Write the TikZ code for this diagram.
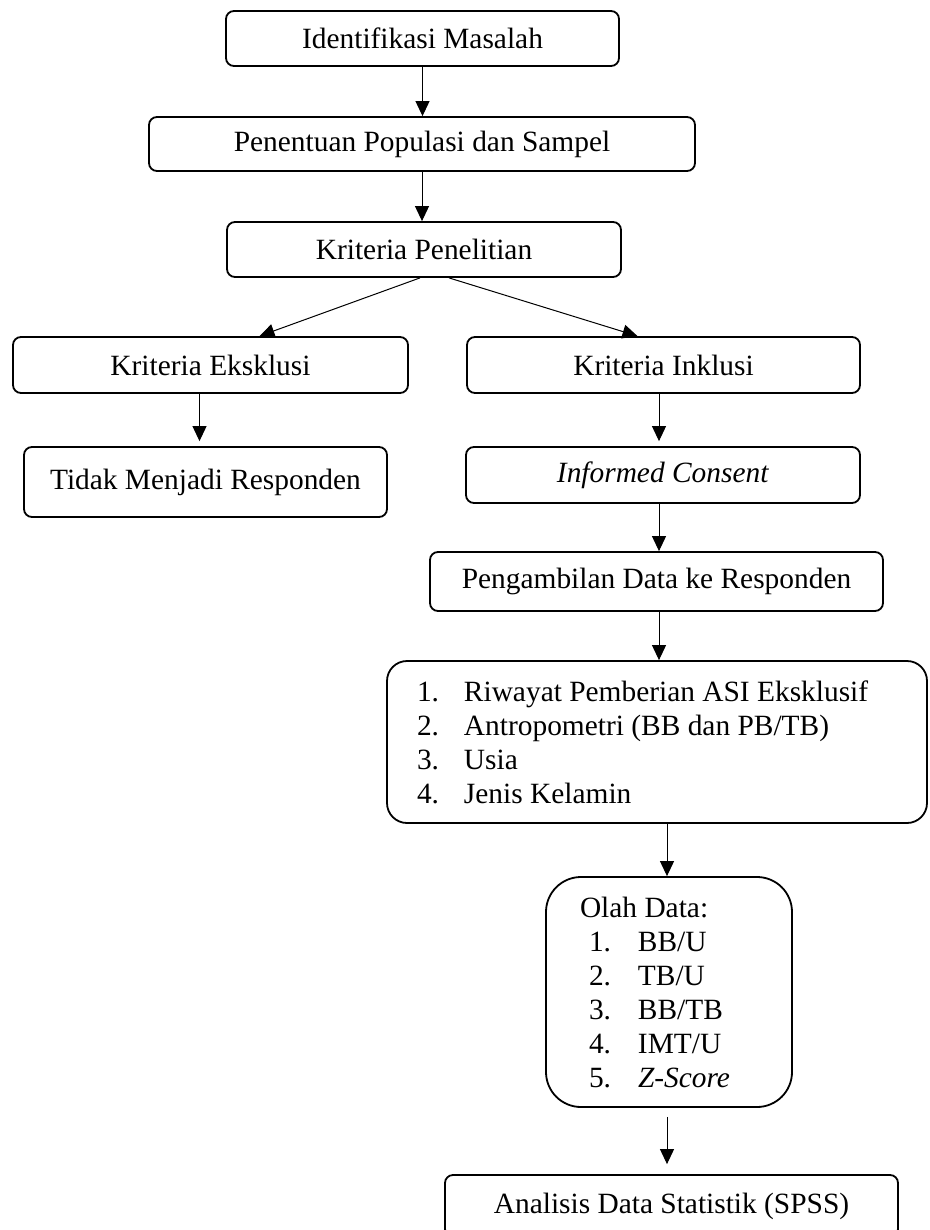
\documentclass[tikz,border=0pt]{standalone}
\usepackage{fontspec}
\setmainfont{Liberation Serif}
\usetikzlibrary{arrows.meta}

\begin{document}
\begin{tikzpicture}[x=1pt, y=-1pt]
    \tikzset{box/.style={draw, line width=1.8pt, rounded corners=8pt, inner sep=0pt, font=\fontsize{29.4}{34}\selectfont},
             arr/.style={line width=1pt, -{Triangle[length=15pt, width=14pt]}}}

    \clip (0,0) rectangle (929,1230);

    \draw (422.5,38.5) node (masalah) [box, minimum width=393pt, minimum height=55pt] {Identifikasi Masalah};
    \draw (422,144) node (populasi) [box, minimum width=546pt, minimum height=54pt] {Penentuan Populasi dan Sampel};
    \draw (424,249.5) node (kriteria) [box, minimum width=394pt, minimum height=55pt] {Kriteria Penelitian};
    \draw (210.5,365) node (eksklusi) [box, minimum width=395pt, minimum height=56pt] {Kriteria Eksklusi};
    \draw (663.5,365) node (inklusi) [box, minimum width=393pt, minimum height=56pt] {\raisebox{-3pt}{Kriteria Inklusi}};
    \draw (205.5,482) node (tidak) [box, minimum width=363pt, minimum height=70pt] {Tidak Menjadi Responden};
    \draw (663,475) node (consent) [box, minimum width=394pt, minimum height=56pt] {\textit{Informed Consent}};
    \draw (656.5,581.5) node (ambil) [box, minimum width=453pt, minimum height=59pt] {Pengambilan Data ke Responden};
    \draw (657,742) node (data) [box, rounded corners=20pt, minimum width=540pt, minimum height=162pt,
        text width=480pt, inner xsep=30pt, align=flush left]
        {\makebox[47pt][l]{1.}Riwayat Pemberian ASI Eksklusif\\
         \makebox[47pt][l]{2.}Antropometri (BB dan PB/TB)\\
         \makebox[47pt][l]{3.}Usia\\
         \makebox[47pt][l]{4.}Jenis Kelamin};
    \draw (669,992) node (olah) [box, rounded corners=35pt, minimum width=246pt, minimum height=230pt,
        text width=178pt, inner xsep=34pt, align=flush left]
        {Olah Data:\\
         \hspace*{9pt}\makebox[49pt][l]{1.}BB/U\\
         \hspace*{9pt}\makebox[49pt][l]{2.}TB/U\\
         \hspace*{9pt}\makebox[49pt][l]{3.}BB/TB\\
         \hspace*{9pt}\makebox[49pt][l]{4.}IMT/U\\
         \hspace*{9pt}\makebox[49pt][l]{5.}\textit{Z-Score}};
    \draw (671.5,1206) node (analisis) [box, minimum width=453pt, minimum height=62pt] {Analisis Data Statistik (SPSS)};

    \draw[arr] (masalah.south) -- (masalah.south |- populasi.north);
    \draw[arr] (populasi.south) -- (populasi.south |- kriteria.north);
    \draw[arr] ([xshift=-4pt]kriteria.south) -- ([xshift=49pt]eksklusi.north);
    \draw[arr] ([xshift=25pt]kriteria.south) -- ([xshift=-26pt]inklusi.north);
    \draw[arr, shorten >=5pt] ([xshift=-11pt]eksklusi.south) -- ([xshift=-6pt]tidak.north);
    \draw[arr, shorten >=5pt] ([xshift=-4.5pt]inklusi.south) -- ([xshift=-4pt]consent.north);
    \draw[arr] ([xshift=-4pt]consent.south) -- ([xshift=2.5pt]ambil.north);
    \draw[arr] ([xshift=2.5pt]ambil.south) -- ([xshift=2pt]data.north);
    \draw[arr] ([xshift=10pt]data.south) -- ([xshift=-2pt]olah.north);
    \draw[arr, shorten <=9pt, shorten >=10pt] ([xshift=-2pt]olah.south) -- ([xshift=-4.5pt]analisis.north);
\end{tikzpicture}
\end{document}
